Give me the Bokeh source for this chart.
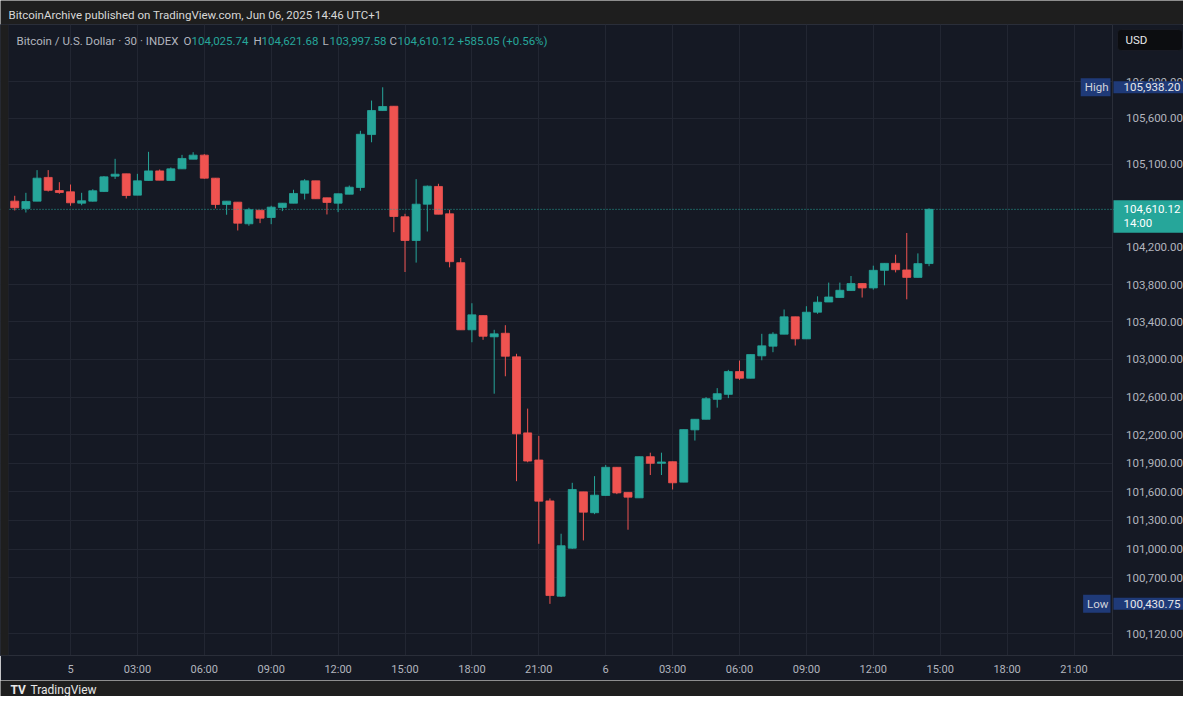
from bokeh.plotting import figure
from bokeh.layouts import column
from bokeh.models import (Range1d, FixedTicker, NumeralTickFormatter, Label,
                          BoxAnnotation, Span, ColumnDataSource)
from bokeh.embed import file_html
from bokeh.resources import INLINE

# ---------------- data ----------------
# half-hour slot index counted from Jun 5 00:00 (UTC+1); -5 = Jun 4 21:30, 77 = Jun 6 14:30
slots = list(range(-5, 78))
opens = [104699, 104620, 104699, 104956, 104814, 104800, 104677, 104699, 104803, 104970,
         104995, 104764, 104923, 105027, 104923, 105049, 105154, 105198, 104948, 104663,
         104688, 104454, 104601, 104522, 104631, 104677, 104785, 104919, 104735, 104677,
         104774, 104847, 105422, 105684, 105731, 104530, 104274, 104666, 104858, 104562,
         104035, 103316, 103468, 103241, 103279, 103028, 102221, 101935, 101505, 100510,
         101010, 101600, 101381, 101562, 101858, 101594, 101537, 101970, 101900, 101917,
         101702, 102253, 102365, 102576, 102629, 102871, 102800, 103038, 103141, 103269,
         103455, 103219, 103504, 103613, 103661, 103736, 103811, 103764, 103953, 104028,
         103957, 103877, 104025.74]
highs = [104757, 104789, 105035, 105035, 104904, 104879, 104789, 104828, 104970, 105158,
         104995, 104995, 105234, 105042, 105064, 105201, 105230, 105209, 104948, 104699,
         104688, 104627, 104601, 104649, 104677, 104822, 104937, 104919, 104735, 104779,
         104868, 105463, 105793, 105938.20, 105731, 104562, 104937, 104868, 104887, 104606,
         104086, 103600, 103468, 103316, 103365, 103060, 102478, 102189, 101531, 101161,
         101695, 101600, 101765, 101882, 101858, 101594, 101970, 102012, 102012, 101917,
         102256, 102365, 102600, 102695, 102889, 102988, 103052, 103273, 103290, 103533,
         103455, 103568, 103674, 103821, 103821, 103892, 103811, 104003, 104028, 104121,
         104355, 104135, 104621.68]
lows = [104598, 104576, 104699, 104803, 104779, 104649, 104655, 104695, 104800, 104940,
        104728, 104764, 104923, 104926, 104923, 105049, 105154, 104942, 104620, 104552,
        104382, 104433, 104461, 104450, 104591, 104677, 104717, 104725, 104555, 104580,
        104774, 104811, 105338, 105684, 104364, 103935, 104036, 104371, 104558, 103985,
        103316, 103183, 103209, 102636, 102821, 101712, 101911, 101056, 100430.75, 100504,
        101004, 101091, 101366, 101562, 101576, 101203, 101537, 101777, 101777, 101625,
        101702, 102140, 102365, 102488, 102589, 102783, 102800, 102991, 103077, 103269,
        103148, 103219, 103487, 103613, 103661, 103736, 103661, 103746, 103792, 103931,
        103642, 103877, 103997.58]
closes = [104627, 104695, 104948, 104816, 104793, 104681, 104703, 104811, 104962, 104991,
          104760, 104919, 105027, 104926, 105049, 105162, 105198, 104948, 104663, 104699,
          104461, 104606, 104515, 104634, 104677, 104782, 104919, 104725, 104685, 104779,
          104850, 105425, 105684, 105728, 104533, 104274, 104666, 104861, 104558, 104046,
          103316, 103476, 103247, 103273, 103034, 102211, 101924, 101502, 100517, 101036,
          101625, 101387, 101565, 101858, 101589, 101544, 101970, 101900, 101914, 101695,
          102256, 102365, 102583, 102636, 102871, 102800, 103052, 103145, 103269, 103455,
          103219, 103504, 103611, 103667, 103739, 103811, 103764, 103953, 104028, 103960,
          103877, 104025.07, 104610.12]

price_ticks = [100120, 100700, 101000, 101300, 101600, 101900, 102200, 102600,
               103000, 103400, 103800, 104200, 105100, 105600, 106000]
time_tick_slots = [0, 6, 12, 18, 24, 30, 36, 42, 48, 54, 60, 66, 72, 78, 84, 90]
time_tick_labels = ["5", "03:00", "06:00", "09:00", "12:00", "15:00", "18:00", "21:00",
                    "6", "03:00", "06:00", "09:00", "12:00", "15:00", "18:00", "21:00"]

header_text = "BitcoinArchive published on TradingView.com, Jun 06, 2025 14:46 UTC+1"
symbol_text = "Bitcoin / U.S. Dollar \u00b7 30 \u00b7 INDEX"
countdown_text = "14:00"

# ---------------- style ----------------
UP = "#26a69a"
DOWN = "#ef5350"
PANEL = "#151924"
OUTER = "#1e1e1e"
GRID = "#222632"
BORDER = "#2a2e39"
AXIS_TXT = "#b2b5be"
BLUE = "#1f3a78"
FONT = "Roboto"
W = 1183

# screen helper for the main chart (frame spans x 0..1183, y 24..655 of the page)
FRAME_BOTTOM = 655
def sy(ry):
    return FRAME_BOTTOM - ry

# ---------------- header strip ----------------
header = figure(width=W, height=24, x_range=Range1d(0, 1), y_range=Range1d(0, 1),
                x_axis_location=None, y_axis_location=None, min_border=0,
                output_backend="svg", toolbar_location=None)
header.background_fill_color = OUTER
header.border_fill_color = OUTER
header.outline_line_color = None
header.grid.visible = False
header.add_layout(Label(x=8, y=10, x_units="screen", y_units="screen", text=header_text,
                        text_font=FONT, text_font_size="11.5px", text_color="#d8d8d8",
                        text_baseline="middle"))

# ---------------- main chart ----------------
colors = [UP if c >= o else DOWN for o, c in zip(opens, closes)]
src = ColumnDataSource(dict(x=slots, o=opens, h=highs, l=lows, c=closes, col=colors))

X_SEP = 93.41  # slot position of the chart / price-scale separator
fig = figure(width=W, height=656, y_axis_type="log", y_axis_location="right",
             x_range=Range1d(-6.278, 99.82), y_range=Range1d(99896, 106628),
             output_backend="svg", toolbar_location=None,
             min_border_left=0, min_border_right=0, min_border_top=0, min_border_bottom=25)
fig.background_fill_color = PANEL
fig.border_fill_color = PANEL
fig.outline_line_color = BORDER

ya = fig.yaxis[0]
ya.fixed_location = X_SEP
ya.ticker = FixedTicker(ticks=price_ticks)
ya.formatter = NumeralTickFormatter(format="0,0.00")
ya.axis_line_color = BORDER
ya.major_tick_line_color = None
ya.minor_tick_line_color = None
ya.major_tick_out = 0
ya.major_tick_in = 0
ya.major_label_text_color = AXIS_TXT
ya.major_label_text_font = FONT
ya.major_label_text_font_size = "11.5px"
ya.major_label_standoff = 14

xa = fig.xaxis[0]
xa.ticker = FixedTicker(ticks=time_tick_slots)
xa.major_label_overrides = {s: t for s, t in zip(time_tick_slots, time_tick_labels)}
xa.axis_line_color = BORDER
xa.major_tick_line_color = None
xa.minor_tick_line_color = None
xa.major_tick_out = 0
xa.major_tick_in = 0
xa.major_label_text_color = AXIS_TXT
xa.major_label_text_font = FONT
xa.major_label_text_font_size = "11px"
xa.major_label_standoff = 7

fig.xgrid.grid_line_color = GRID
fig.ygrid.grid_line_color = GRID
fig.ygrid.ticker = FixedTicker(ticks=price_ticks)

# price-scale area (hides grid right of the separator) and left page strip
fig.add_layout(BoxAnnotation(left=1111.5, left_units="screen", fill_color=PANEL,
                             fill_alpha=1, line_color=None, level="underlay"))
fig.add_layout(BoxAnnotation(right=8, right_units="screen", fill_color=OUTER,
                             fill_alpha=1, line_color=BORDER, level="overlay"))

# candles
fig.segment(x0="x", y0="l", x1="x", y1="h", color="col", line_width=1, source=src)
fig.vbar(x="x", top="o", bottom="c", width=0.72, fill_color="col", line_color="col",
         line_width=0.8, source=src)

# last price line
fig.add_layout(Span(location=closes[-1], dimension="width", line_color=UP,
                    line_dash="1 2", line_width=1))

# legend row
chg = closes[-1] - closes[-2]
pct = chg / closes[-2] * 100
legend_parts = [
    (16, symbol_text, AXIS_TXT),
    (183, "O", AXIS_TXT), (191, f"{opens[-1]:,.2f}", UP),
    (253, "H", AXIS_TXT), (261, f"{highs[-1]:,.2f}", UP),
    (322, "L", AXIS_TXT), (329, f"{lows[-1]:,.2f}", UP),
    (389, "C", AXIS_TXT), (397, f"{closes[-1]:,.2f}", UP),
    (457, f"{chg:+,.2f} ({pct:+.2f}%)", UP),
]
for rx, txt, col in legend_parts:
    fig.add_layout(Label(x=rx, y=sy(40), x_units="screen", y_units="screen", text=txt,
                         text_font=FONT, text_font_size="11.5px", text_color=col,
                         text_baseline="middle"))

# USD box
fig.add_layout(BoxAnnotation(left=1117, right=1182, top=sy(29), bottom=sy(50),
                             left_units="screen", right_units="screen",
                             top_units="screen", bottom_units="screen",
                             fill_color="#0c0d10", fill_alpha=1, line_color=BORDER,
                             border_radius=4))
fig.add_layout(Label(x=1125, y=sy(39.5), x_units="screen", y_units="screen", text="USD",
                     text_font=FONT, text_font_size="11.5px", text_color="#e8e8e8",
                     text_baseline="middle"))

# High / Low markers on the price scale
hi = max(highs)
lo = min(lows)
for price, name in [(hi, "High"), (lo, "Low")]:
    fig.add_layout(Label(x=1110, y=price, x_units="screen", y_units="data", text=name,
                         text_align="right", text_baseline="middle", text_font=FONT,
                         text_font_size="11.5px", text_color="#d1d4dc",
                         background_fill_color=BLUE,
                         padding=dict(left=4, right=2, top=2, bottom=2)))
    fig.add_layout(Label(x=1113, y=price, x_units="screen", y_units="data",
                         text=f"{price:,.2f}", text_align="left", text_baseline="middle",
                         text_font=FONT, text_font_size="11.5px", text_color="#e8e8e8",
                         background_fill_color=BLUE,
                         padding=dict(left=10, right=5, top=2, bottom=2)))

# last price tag
fig.add_layout(Label(x=1113, y=closes[-1], x_units="screen", y_units="data",
                     text=f"{closes[-1]:,.2f}\n{countdown_text}", text_align="left",
                     text_baseline="top", y_offset=9, text_font=FONT,
                     text_font_size="11.5px", text_line_height=0.95, text_color="#ffffff",
                     background_fill_color=UP,
                     padding=dict(left=10, right=5, top=2, bottom=3)))

# ---------------- footer strip ----------------
footer = figure(width=W, height=16, x_range=Range1d(0, 1), y_range=Range1d(0, 1),
                x_axis_location=None, y_axis_location=None, min_border=0,
                output_backend="svg", toolbar_location=None)
footer.background_fill_color = OUTER
footer.border_fill_color = OUTER
footer.outline_line_color = None
footer.grid.visible = False
footer.add_layout(Label(x=10, y=7, x_units="screen", y_units="screen", text="TV",
                        text_font=FONT, text_font_style="bold", text_font_size="12px",
                        text_color="#e8e8e8", text_baseline="middle"))
footer.add_layout(Label(x=30, y=7, x_units="screen", y_units="screen", text="TradingView",
                        text_font=FONT, text_font_size="12px", text_color="#e8e8e8",
                        text_baseline="middle"))

p = column(header, fig, footer, spacing=0)

open("out.html", "w").write(file_html(p, INLINE))
